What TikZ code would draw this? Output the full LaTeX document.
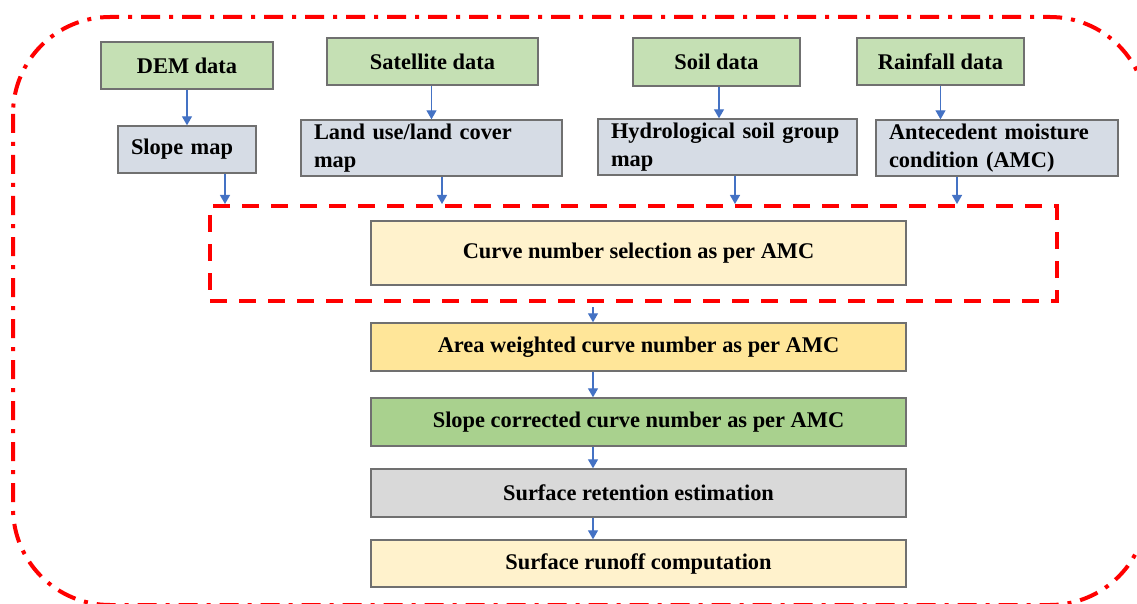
\documentclass[tikz,border=0pt]{standalone}
\usepackage{fontspec}
\setmainfont{Liberation Serif}
\usetikzlibrary{arrows.meta}
\definecolor{dgreen}{HTML}{C5E0B4}
\definecolor{dblue}{HTML}{D6DCE5}
\definecolor{lyellow}{HTML}{FFF2CC}
\definecolor{myellow}{HTML}{FFE699}
\definecolor{mgreen}{HTML}{A9D18E}
\definecolor{lgray}{HTML}{D9D9D9}
\definecolor{bordergray}{HTML}{707070}
\definecolor{arrblue}{HTML}{4472C4}
\definecolor{myred}{HTML}{FF0000}
\tikzset{
  box/.style={draw=bordergray, line width=1.4pt, inner sep=0pt,
    font=\bfseries\fontsize{22.4}{28}\selectfont},
  databox/.style={box, fill=dgreen},
  mapbox/.style={box, fill=dblue, align=left, inner xsep=13pt},
  arr/.style={draw=arrblue, line width=1.3pt, -{Triangle[width=10pt,length=9pt]}},
  outerline/.style={draw=myred, line width=4pt,
    dash pattern=on 19pt off 9pt on 4pt off 9pt},
  innerline/.style={draw=myred, line width=4pt, dash pattern=on 17pt off 12pt},
}
\begin{document}
\begin{tikzpicture}[x=1pt,y=-1pt]
\useasboundingbox (0,0) rectangle (1137,604);
% outer dash-dot border
\draw[outerline, rounded corners=97pt] (13,17) rectangle (1147,605);
% top row
\node[databox, minimum width=172pt, minimum height=47pt] (dem) at (187,65.5) {DEM data};
\node[databox, minimum width=211pt, minimum height=47pt] (sat) at (432.5,61.5) {Satellite data};
\node[databox, minimum width=167pt, minimum height=48pt] (soil) at (716.5,62) {Soil data};
\node[databox, minimum width=167pt, minimum height=47pt] (rain) at (940.5,61.5) {Rainfall data};
% second row
\node[mapbox, text width=112pt, minimum height=47pt] (slope) at (187,149.5) {Slope map};
\node[mapbox, text width=235pt, minimum height=56pt] (lulc) at (431.5,148) {Land use/land cover\\map};
\node[mapbox, text width=233pt, minimum height=56pt] (hsg) at (727.5,147) {Hydrological soil group\\map};
\node[mapbox, text width=216pt, minimum height=56pt] (amc) at (997,148) {Antecedent moisture\\condition (AMC)};
% dashed frame
\node[innerline, minimum width=847pt, minimum height=95pt, inner sep=0pt] (frame) at (633.5,253.5) {};
% chain
\node[box, fill=lyellow, minimum width=535pt, minimum height=64pt] (cn) at (638.5,253) {Curve number selection as per AMC};
\node[box, fill=myellow, minimum width=535pt, minimum height=48pt] (aw) at (638.5,347) {Area weighted curve number as per AMC};
\node[box, fill=mgreen, minimum width=535pt, minimum height=48pt] (sc) at (638.5,422) {Slope corrected curve number as per AMC};
\node[box, fill=lgray, minimum width=535pt, minimum height=48pt] (sr) at (638.5,493) {Surface retention estimation};
\node[box, fill=lyellow, minimum width=535pt, minimum height=47pt] (ro) at (638.5,563.5) {Surface runoff computation};
% connectors
\coordinate (ax) at (593,0);
\draw[arr] (dem.south) -- (dem.south |- slope.north);
\draw[arr] ([xshift=-1pt]sat.south) -- ([xshift=-1pt]sat.south |- lulc.north);
\draw[arr] ([xshift=2.5pt]soil.south) -- ([xshift=2.5pt]soil.south |- hsg.north);
\draw[arr] (rain.south) -- (rain.south |- amc.north);
\draw[arr] ([xshift=38pt]slope.south) -- ([xshift=38pt]slope.south |- frame.north);
\draw[arr] ([xshift=10.5pt]lulc.south) -- ([xshift=10.5pt]lulc.south |- frame.north);
\draw[arr] ([xshift=7.5pt]hsg.south) -- ([xshift=7.5pt]hsg.south |- frame.north);
\draw[arr] ([xshift=-40pt]amc.south) -- ([xshift=-40pt]amc.south |- frame.north);
\draw[arr] ([yshift=-4pt]frame.south -| ax) -- (aw.north -| ax);
\draw[arr] (aw.south -| ax) -- (sc.north -| ax);
\draw[arr] (sc.south -| ax) -- (sr.north -| ax);
\draw[arr] (sr.south -| ax) -- (ro.north -| ax);
\end{tikzpicture}
\end{document}
